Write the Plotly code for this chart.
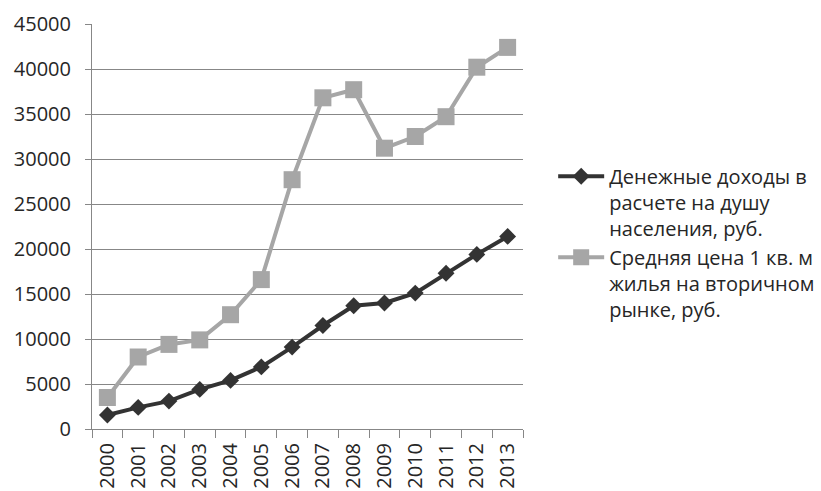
import plotly.graph_objects as go

years = [str(y) for y in range(2000, 2014)]
income = [1560, 2400, 3100, 4400, 5400, 6900, 9100, 11500, 13700, 14000, 15100, 17300, 19400, 21400]
price = [3500, 8000, 9400, 9900, 12700, 16600, 27700, 36800, 37700, 31200, 32500, 34700, 40200, 42400]
name_income = "Денежные доходы в<br>расчете на душу<br>населения, руб."
name_price = "Средняя цена 1 кв. м<br>жилья на вторичном<br>рынке, руб."
y_ticks = [0, 5000, 10000, 15000, 20000, 25000, 30000, 35000, 40000, 45000]

fig = go.Figure()
fig.add_trace(go.Scatter(x=years, y=income, name=name_income, mode="lines+markers",
                         line=dict(color="#333333", width=4),
                         marker=dict(symbol="diamond", size=13, color="#333333")))
fig.add_trace(go.Scatter(x=years, y=price, name=name_price, mode="lines+markers",
                         line=dict(color="#a6a6a6", width=4),
                         marker=dict(symbol="square", size=17, color="#a6a6a6")))

font = dict(family="Open Sans", size=20, color="#262626")
fig.update_layout(
    width=821, height=491,
    margin=dict(l=92, r=298, t=24, b=62, autoexpand=False),
    plot_bgcolor="white", paper_bgcolor="white",
    font=font,
    legend=dict(x=1.07, y=0.46, xanchor="left", yanchor="middle",
                font=dict(family="Open Sans", size=20, color="#262626"),
                valign="top", itemwidth=46),
    showlegend=True,
)
fig.update_xaxes(type="category", range=[-0.5, 13.5], tickson="boundaries", ticks="outside", ticklen=8,
                 tickcolor="#878787", showline=True, linecolor="#878787", linewidth=1,
                 showgrid=False, tickangle=-90, tickfont=font, ticklabelstandoff=5,
                 automargin=False)
fig.update_yaxes(range=[0, 45000], tickvals=y_ticks, tickformat="d", ticks="outside", ticklen=6,
                 tickcolor="#878787", showline=True, linecolor="#878787", linewidth=1,
                 showgrid=True, gridcolor="#878787", gridwidth=1, zeroline=False,
                 tickfont=font, ticklabelstandoff=10, automargin=False)
fig.write_html("out.html")
